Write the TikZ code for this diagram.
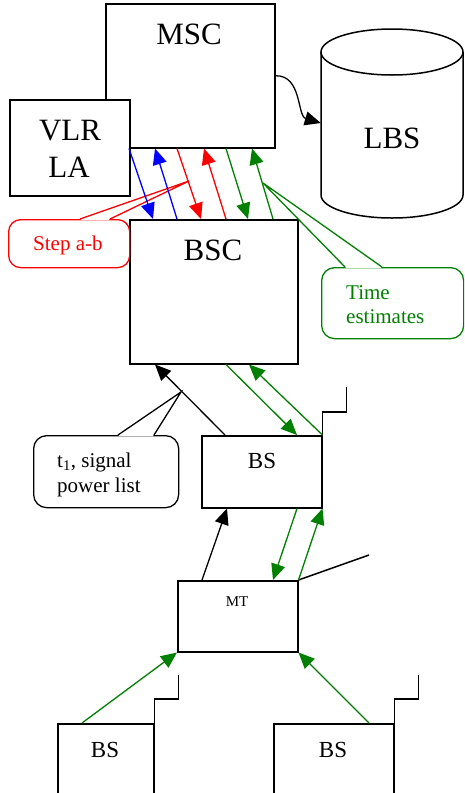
\documentclass[tikz,border=0pt]{standalone}
\usepackage{fontspec}
\setmainfont{Liberation Serif}
\usetikzlibrary{arrows.meta,calc}
\definecolor{dgreen}{RGB}{0,128,0}
\begin{document}
\begin{tikzpicture}[x=1pt,y=-1pt,
  box/.style={draw, line width=1.5pt, fill=white, inner sep=0pt, anchor=north west},
  note/.style={draw, line width=1.3pt, fill=white, inner sep=0pt, anchor=north west, rounded corners=13pt},
  wire/.style={line width=1.5pt},
  arr/.style={line width=1.3pt, -{Triangle[length=16pt,width=14pt]}},
  bigtxt/.style={anchor=base, inner sep=0pt, font=\fontsize{31}{37}\selectfont},
  bstxt/.style={anchor=base, inner sep=0pt, font=\fontsize{23}{27}\selectfont},
  mttxt/.style={anchor=base, inner sep=0pt, font=\fontsize{15}{18}\selectfont},
  notetxt/.style={anchor=base west, inner sep=0pt, font=\fontsize{21}{25}\selectfont}]
\useasboundingbox (0,0) rectangle (464,793);
\clip (0,0) rectangle (464,793);

% network elements
\node[box, minimum width=169pt, minimum height=144pt] (msc) at (105,3) {};
\node[box, minimum width=120pt, minimum height=96pt] (vlr) at (9,99) {};
\node[inner sep=0pt, minimum width=142pt, minimum height=190pt] (lbs) at (392,123) {};
\draw[wire, fill=white] (321,52) -- (321,195)
  arc[start angle=180, end angle=360, x radius=71pt, y radius=23pt] -- (463,52);
\draw[wire] (392,52) ellipse[x radius=71pt, y radius=23pt];
\node[box, minimum width=168pt, minimum height=144pt] (bsc) at (129,219) {};
\node[box, minimum width=120pt, minimum height=72pt] (bs1) at (201,435) {};
\node[box, minimum width=120pt, minimum height=71pt] (mt) at (177,580) {};
\node[box, minimum width=96pt, minimum height=100pt] (bs2) at (57,723) {};
\node[box, minimum width=120pt, minimum height=100pt] (bs3) at (273,723) {};

% antennas
\draw[wire] (bs1.north east) -- ++(0,-23) -- ++(24,0) -- ++(0,-25);
\draw[wire] (bs2.north east) -- ++(0,-24) -- ++(24,0) -- ++(0,-24);
\draw[wire] (bs3.north east) -- ++(0,-24) -- ++(24,0) -- ++(0,-24);
\coordinate (mtant) at (369,555);
\draw[wire] (mt.north east) -- (mtant);

% callouts
\node[note, draw=red, rounded corners=12pt, minimum width=121pt, minimum height=48pt] (stepab) at (8,219) {};
\coordinate (steptip) at (189,181);
\fill[white] ([xshift=72.7pt]stepab.north west) -- ([xshift=72.7pt,yshift=-1.2pt]stepab.north west)
  -- ([xshift=101.3pt,yshift=-1.2pt]stepab.north west) -- ([xshift=101.3pt]stepab.north west)
  -- (steptip) -- cycle;
\draw[red, line width=1.3pt] ([xshift=72pt]stepab.north west) -- (steptip) -- ([xshift=102pt]stepab.north west);

\node[note, draw=dgreen, minimum width=142pt, minimum height=71pt] (timeest) at (321,267) {};
\coordinate (timetip) at (263,183);
\fill[white] ([xshift=24.7pt]timeest.north west) -- ([xshift=24.7pt,yshift=-1.2pt]timeest.north west)
  -- ([xshift=60.3pt,yshift=-1.2pt]timeest.north west) -- ([xshift=60.3pt]timeest.north west)
  -- (timetip) -- cycle;
\draw[dgreen, line width=1.3pt] ([xshift=24pt]timeest.north west) -- (timetip) -- ([xshift=61pt]timeest.north west);

\node[note, draw=black, minimum width=145pt, minimum height=72pt] (tlist) at (33,435) {};
\coordinate (tlisttip) at (181,392);
\fill[white] ([xshift=85.7pt]tlist.north west) -- ([xshift=85.7pt,yshift=-1.2pt]tlist.north west)
  -- ([xshift=120.3pt,yshift=-1.2pt]tlist.north west) -- ([xshift=120.3pt]tlist.north west)
  -- (tlisttip) -- cycle;
\draw[line width=1.3pt] ([xshift=85pt]tlist.north west) -- (tlisttip) -- ([xshift=121pt]tlist.north west);

% MSC -- LBS
\draw[arr] (msc.east) .. controls (302,75) and (297,116) .. (lbs.west);

% MSC -- BSC signalling
\draw[arr, blue]   ([xshift=24pt]msc.south west)  -- ([xshift=24pt]bsc.north west);
\draw[arr, blue]   ([xshift=48pt]bsc.north west)  -- ([xshift=50pt]msc.south west);
\draw[arr, red]    ([xshift=72pt]msc.south west)  -- ([xshift=72pt]bsc.north west);
\draw[arr, red]    ([xshift=97pt]bsc.north west)  -- ([xshift=99pt]msc.south west);
\draw[arr, dgreen] ([xshift=121pt]msc.south west) -- ([xshift=119pt]bsc.north west);
\draw[arr, dgreen] ([xshift=144pt]bsc.north west) -- ([xshift=147pt]msc.south west);

% BSC -- BS
\draw[arr] ([xshift=24pt]bs1.north west) -- ([xshift=26pt]bsc.south west);
\draw[arr, dgreen] ([xshift=97pt]bsc.south west) -- ([xshift=96pt]bs1.north west);
\draw[arr, dgreen] (bs1.north east) -- ([xshift=120pt]bsc.south west);

% BS -- MT
\draw[arr] ([xshift=25pt]mt.north west) -- ([xshift=26pt]bs1.south west);
\draw[arr, dgreen] ([xshift=96pt]bs1.south west) -- ([xshift=96pt]mt.north west);
\draw[arr, dgreen] (mt.north east) -- (bs1.south east);

% neighbouring BS -- MT
\draw[arr, dgreen] ([xshift=25pt]bs2.north west) -- (mt.south west);
\draw[arr, dgreen] ([xshift=96pt]bs3.north west) -- (mt.south east);

% labels
\node[bigtxt] (msct) at (189,44) {MSC};
\node[bigtxt] (vlrt) at (70,140) {VLR};
\node[bigtxt] (lat) at (69,177) {LA};
\node[bigtxt] (lbst) at (392,148) {LBS};
\node[bigtxt] (bsct) at (213,260) {BSC};
\node[bstxt] (bs1t) at (262,468) {BS};
\node[mttxt] (mtt) at (237,606) {MT};
\node[bstxt] (bs2t) at (105,757) {BS};
\node[bstxt] (bs3t) at (333,757) {BS};
\node[notetxt, text=red] (stept) at (33,250) {Step a-b};
\node[notetxt, text=dgreen] (timet) at (346,299) {Time};
\node[notetxt, text=dgreen] (estt) at (346,323) {estimates};
\node[notetxt] (t1t) at (57,467) {t\textsubscript{1}, signal};
\node[notetxt] (powt) at (57,492) {power list};
\end{tikzpicture}
\end{document}
